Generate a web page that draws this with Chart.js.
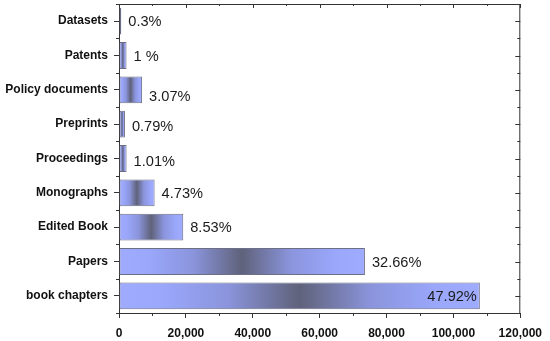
<!DOCTYPE html>
<html>
<head>
<meta charset="utf-8">
<script src="https://cdn.jsdelivr.net/npm/chart.js@4/dist/chart.umd.min.js"></script>
<style>
html,body{margin:0;padding:0;background:#fff;}
#wrap{width:550px;height:341px;position:relative;}
</style>
</head>
<body>
<div id="wrap"><canvas id="c" width="550" height="341"></canvas></div>
<script>
const categories = ['Datasets','Patents','Policy documents','Preprints','Proceedings','Monographs','Edited Book','Papers','book chapters'];
const counts = [680, 2250, 6910, 1780, 2270, 10650, 19210, 73540, 107900];
const pctLabels = ['0.3%','1 %','3.07%','0.79%','1.01%','4.73%','8.53%','32.66%','47.92%'];
const xMin = 0, xMax = 120000, xStep = 20000, xMinorStep = 10000;

const FONT = "'Liberation Sans', Arial, sans-serif";
const AXIS = '#333333';

function barGradient(context){
  const chart = context.chart;
  const {ctx, chartArea} = chart;
  if (!chartArea || context.dataIndex === undefined) return '#9aa8fe';
  const xs = chart.scales.x;
  const v = context.dataset.data[context.dataIndex];
  const x0 = xs.getPixelForValue(0), x1 = xs.getPixelForValue(v);
  if (x1 - x0 < 1) return '#9aa8fe';
  const g = ctx.createLinearGradient(x0, 0, x1, 0);
  g.addColorStop(0, '#9eabff');
  g.addColorStop(0.12, '#9aa7fb');
  g.addColorStop(0.3, '#8b95dd');
  g.addColorStop(0.5, '#5f627a');
  g.addColorStop(0.7, '#8b95dd');
  g.addColorStop(0.88, '#9aa7fb');
  g.addColorStop(1, '#9eabff');
  return g;
}

const framePlugin = {
  id: 'frame',
  afterDraw(chart){
    const {ctx, chartArea:{left,right,top,bottom}, scales:{x,y}} = chart;
    ctx.save();
    ctx.strokeStyle = AXIS;
    ctx.lineWidth = 1;
    ctx.beginPath();
    ctx.moveTo(left, top + 0.5); ctx.lineTo(right, top + 0.5);
    ctx.moveTo(right - 0.5, top); ctx.lineTo(right - 0.5, bottom);
    for (let v = x.min; v <= x.max; v += xMinorStep){
      const px = Math.round(x.getPixelForValue(v)) + 0.5;
      const major = (v % xStep) === 0;
      ctx.moveTo(px, top); ctx.lineTo(px, top + (major ? 4 : 2));
      if (!major){ ctx.moveTo(px, bottom); ctx.lineTo(px, bottom + 3); }
    }
    const step = y.getPixelForValue(1) - y.getPixelForValue(0);
    categories.forEach((c, i) => {
      const py = Math.round(y.getPixelForValue(i)) + 0.5;
      ctx.moveTo(right, py); ctx.lineTo(right - 5, py);
    });
    for (let i = 0; i <= categories.length; i++){
      const py = Math.round(y.getPixelForValue(i) - step/2) + 0.5;
      ctx.moveTo(left, py); ctx.lineTo(left - 3, py);
      ctx.moveTo(right, py); ctx.lineTo(right - 3, py);
    }
    ctx.stroke();
    ctx.restore();
  }
};

const labelPlugin = {
  id: 'pctLabels',
  afterDatasetsDraw(chart, args, opts){
    const {ctx, chartArea} = chart;
    const meta = chart.getDatasetMeta(0);
    ctx.save();
    ctx.font = opts.font;
    ctx.fillStyle = opts.color;
    ctx.textBaseline = 'middle';
    meta.data.forEach((bar, i) => {
      const t = pctLabels[i];
      const w = ctx.measureText(t).width;
      let tx;
      if (bar.x + opts.gap + w > chartArea.right){
        ctx.textAlign = 'right'; tx = bar.x - opts.inset;
      } else {
        ctx.textAlign = 'left'; tx = bar.x + opts.gap;
      }
      const ny = (opts.nudge && opts.nudge[i]) || 0;
      ctx.fillText(t, tx, bar.y + ny + 1);
    });
    ctx.restore();
  }
};

new Chart(document.getElementById('c'), {
  type: 'bar',
  data: {
    labels: categories,
    datasets: [{
      data: counts,
      backgroundColor: barGradient,
      borderColor: '#6c6f86',
      borderWidth: 1,
      borderSkipped: false,
      barPercentage: 0.78,
      categoryPercentage: 1.0
    }]
  },
  options: {
    indexAxis: 'y',
    responsive: false,
    animation: false,
    devicePixelRatio: 1,
    layout: { padding: { left: 0, right: 27, top: 4, bottom: 0 } },
    plugins: {
      legend: { display: false },
      tooltip: { enabled: false },
      pctLabels: { font: "14.6px " + FONT, color: '#1a1a1a', gap: 7, inset: 3, nudge: {2: 6, 3: 2, 4: 2} }
    },
    scales: {
      x: {
        min: xMin, max: xMax,
        ticks: { stepSize: xStep, color: '#111', padding: 8,
          font: { family: FONT, size: 12, weight: 'bold' },
          callback: v => v.toLocaleString('en-US') },
        grid: { display: true, drawOnChartArea: false, drawTicks: true, tickLength: 5, color: AXIS },
        border: { display: true, color: AXIS, width: 1 },
        afterFit(s){ s.height = 28; }
      },
      y: {
        ticks: { color: '#111', padding: 6, font: { family: FONT, size: 12, weight: 'bold' } },
        grid: { display: true, offset: false, drawOnChartArea: false, drawTicks: true, tickLength: 5, color: AXIS },
        border: { display: true, color: AXIS, width: 1 },
        afterFit(s){ s.width = 119; s.paddingTop = 0; s.paddingBottom = 0; }
      }
    }
  },
  plugins: [framePlugin, labelPlugin]
});
</script>
</body>
</html>
